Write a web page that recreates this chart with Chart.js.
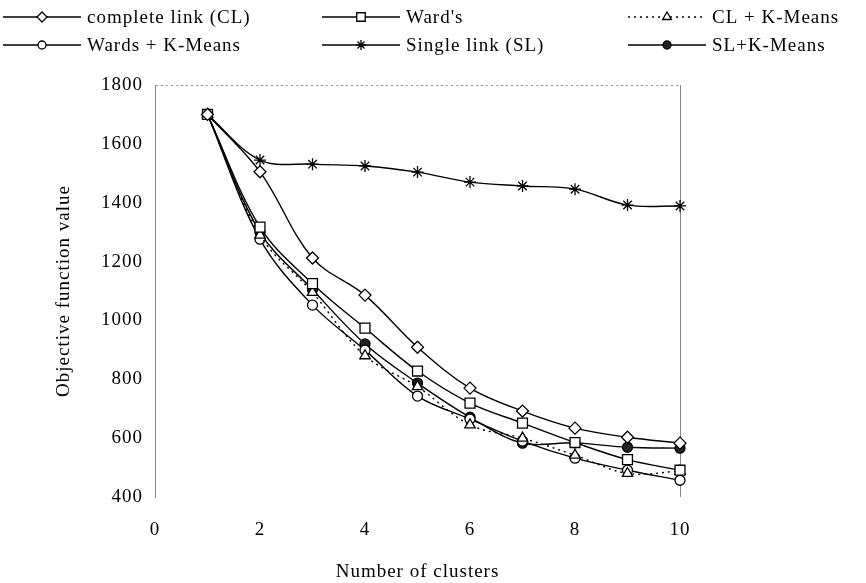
<!DOCTYPE html>
<html>
<head>
<meta charset="utf-8">
<script src="https://cdn.jsdelivr.net/npm/chart.js@4"></script>
<style>
  html,body{margin:0;padding:0;background:#fff;}
  #wrap{width:866px;height:583px;position:relative;}
</style>
</head>
<body>
<div id="wrap"><canvas id="c"></canvas></div>
<script>
// number of clusters
const clusters = [1, 2, 3, 4, 5, 6, 7, 8, 9, 10];

// objective function value per method
const completeLink = [1700, 1505, 1212, 1086, 909, 770, 692, 634, 603, 583];
const wards        = [1700, 1317, 1125, 974, 828, 719, 651, 585, 527, 491];
const clKMeans     = [1700, 1290, 1095, 880, 775, 645, 600, 542, 480, 488];
const wardsKMeans  = [1700, 1276, 1052, 899, 743, 665, 590, 532, 491, 457];
const singleLink   = [1700, 1545, 1531, 1525, 1504, 1470, 1457, 1446, 1392, 1389];
const slKMeans     = [1700, 1300, 1105, 920, 787, 671, 583, 584, 569, 566];

const labels = ["complete link (CL)", "Ward's", "CL + K-Means", "Wards + K-Means", "Single link (SL)", "SL+K-Means"];
const xTicks = [0, 10];
const yTicks = [400, 1800];

const FONT = '"Liberation Serif", "Times New Roman", serif';
Chart.defaults.font.family = FONT;
Chart.defaults.color = "#000";

const pts = arr => arr.map((v, i) => ({x: clusters[i], y: v}));
const series = (label, data, style, radius, fill, dash) => ({
  label, data: pts(data), borderColor: "#000", borderWidth: 1.4, borderDash: dash || [],
  pointStyle: style, pointRadius: radius, pointHoverRadius: radius,
  pointBackgroundColor: fill, pointBorderColor: "#000", pointBorderWidth: 1.3,
  tension: 0.35, fill: false, clip: false
});

const datasets = [
  series(labels[0], completeLink, "rectRot", 6, "#fff"),
  series(labels[1], wards, "rect", 7, "#fff"),
  series(labels[2], clKMeans, "triangle", 6, "#fff", [2, 4]),
  series(labels[3], wardsKMeans, "circle", 5, "#fff"),
  series(labels[4], singleLink, "star", 6, "#fff"),
  series(labels[5], slKMeans, "circle", 5, "#222"),
];

// the scan's type is a little spaced out
const spacing = {
  id: "spacing",
  beforeDraw(chart){ chart.ctx.letterSpacing = "1px"; }
};

// three-column legend at the top
const legendCols = [3, 322, 628];
const legendRows = [17, 45];
const gridLegend = {
  id: "gridLegend",
  afterDraw(chart){
    const ctx = chart.ctx;
    chart.data.datasets.forEach((ds, i)=>{
      const x0 = legendCols[i % 3], y = legendRows[Math.floor(i / 3)];
      ctx.save();
      ctx.strokeStyle = "#000"; ctx.lineWidth = 1.3;
      ctx.setLineDash(ds.borderDash);
      ctx.beginPath(); ctx.moveTo(x0, y); ctx.lineTo(x0 + 78, y); ctx.stroke();
      ctx.setLineDash([]);
      ctx.fillStyle = ds.pointBackgroundColor;
      Chart.helpers.drawPoint(ctx, {pointStyle: ds.pointStyle, radius: ds.pointRadius - 1, borderWidth: 1.3, rotation: 0}, x0 + 39, y);
      ctx.fillStyle = "#000";
      ctx.font = "19px " + FONT;
      ctx.letterSpacing = "1px";
      ctx.textBaseline = "middle";
      ctx.fillText(ds.label, x0 + 84, y + 1);
      ctx.restore();
    });
  }
};

new Chart(document.getElementById("c"), {
  type: "line",
  data: {datasets},
  options: {
    responsive: true, maintainAspectRatio: false, animation: false,
    layout: {padding: {top: 85, right: 186, left: 0, bottom: 0}},
    plugins: {legend: {display: false}, tooltip: {enabled: false}},
    scales: {
      x: {
        type: "linear", min: xTicks[0], max: xTicks[1],
        ticks: {stepSize: 2, padding: 22, font: {size: 19}, callback: v => String(v)},
        grid: {drawTicks: false, color: c => c.tick && c.tick.value === 10 ? "#888" : "transparent"},
        border: {display: false},
        title: {display: true, text: "Number of clusters", font: {size: 19}, padding: {top: 0, bottom: 0}},
        afterFit: s => { s.height = 86; }
      },
      y: {
        min: yTicks[0], max: yTicks[1],
        ticks: {stepSize: 200, padding: 12, font: {size: 19}, callback: v => String(v)},
        grid: {drawTicks: false, color: c => c.tick && c.tick.value === 1800 ? "#999" : "transparent"},
        border: {display: true, color: "#888", width: 1, dash: [2, 3]},
        title: {display: true, text: "Objective function value", font: {size: 19}, padding: {top: 53, bottom: 0}},
        afterFit: s => { s.width = 155; }
      }
    }
  },
  plugins: [spacing, gridLegend]
});
</script>
</body>
</html>
